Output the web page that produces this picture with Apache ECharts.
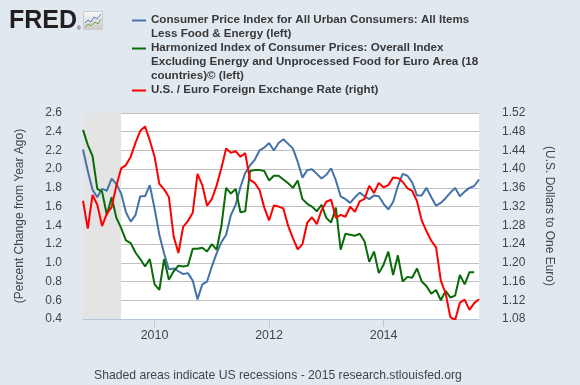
<!DOCTYPE html>
<html><head><meta charset="utf-8">
<script src="https://cdn.jsdelivr.net/npm/echarts@6/dist/echarts.min.js"></script>
<style>html,body{margin:0;padding:0;background:#e1e9f0}#c{width:580px;height:385px}</style>
</head><body><div id="c"></div>
<script>
// ---- data ----
const startYear = 2008, startMonthIndex = 9; // October 2008 (0-based month)
const cpiCore = [ // US core CPI, % change from year ago, Oct 2008 - Sep 2015
  2.21,1.98,1.78,
  1.70,1.79,1.77,1.90,1.84,1.74,1.54,1.44,1.51,1.71,1.71,1.83,
  1.58,1.30,1.10,0.93,0.94,0.91,0.88,0.89,0.81,0.61,0.77,0.80,
  0.96,1.10,1.22,1.30,1.51,1.62,1.81,1.96,2.04,2.10,2.20,2.23,
  2.28,2.20,2.28,2.32,2.27,2.22,2.08,1.91,1.99,2.00,1.95,1.90,
  1.94,2.01,1.88,1.71,1.68,1.64,1.70,1.75,1.71,1.68,1.72,1.71,
  1.63,1.57,1.65,1.82,1.95,1.93,1.86,1.72,1.72,1.80,1.70,1.61,
  1.64,1.69,1.75,1.80,1.71,1.76,1.80,1.82,1.89
];
const hicpCore = [ // Euro area HICP ex energy & unprocessed food, % change, Oct 2008 - Aug 2015
  2.42,2.26,2.14,
  1.79,1.76,1.51,1.70,1.48,1.37,1.24,1.21,1.11,1.04,0.96,1.04,
  0.77,0.71,1.04,0.82,0.91,0.97,0.96,0.97,1.15,1.15,1.16,1.12,
  1.20,1.14,1.39,1.80,1.74,1.79,1.54,1.55,1.98,1.99,1.99,1.98,
  1.88,1.93,1.93,1.89,1.85,1.80,1.88,1.68,1.63,1.60,1.55,1.62,
  1.48,1.43,1.59,1.14,1.31,1.30,1.29,1.31,1.23,1.01,1.12,0.89,
  0.98,1.12,0.87,1.08,0.80,0.85,0.84,0.94,0.80,0.75,0.67,0.71,
  0.60,0.70,0.63,0.65,0.87,0.77,0.90,0.90
];
const usdEur = [ // U.S. dollars to one euro, Oct 2008 - Sep 2015
  1.3326,1.2732,1.3449,
  1.3239,1.2785,1.3050,1.3190,1.3650,1.4016,1.4088,1.4268,1.4562,1.4816,1.4914,1.4614,
  1.4272,1.3686,1.3569,1.3406,1.2565,1.2209,1.2770,1.2894,1.3067,1.3898,1.3661,1.3220,
  1.3360,1.3649,1.4018,1.4442,1.4349,1.4388,1.4264,1.4343,1.3770,1.3706,1.3556,1.3179,
  1.2905,1.3224,1.3201,1.3162,1.2789,1.2526,1.2288,1.2400,1.2856,1.2974,1.2828,1.3119,
  1.3304,1.3347,1.2959,1.3025,1.2983,1.3197,1.3088,1.3314,1.3364,1.3646,1.3491,1.3708,
  1.3610,1.3659,1.3823,1.3813,1.3732,1.3592,1.3539,1.3316,1.2901,1.2673,1.2472,1.2331,
  1.1621,1.1350,1.0838,1.0779,1.1150,1.1213,1.0996,1.1139,1.1221
];
const xTickYears = [2010, 2012, 2014];
const recession = ['2008-10', '2009-06'];
const leftAxis = {min: 0.4, max: 2.6, step: 0.2};
const rightAxis = {min: 1.08, max: 1.52, step: 0.04};
const seriesNames = [
  'Consumer Price Index for All Urban Consumers: All Items\nLess Food & Energy (left)',
  'Harmonized Index of Consumer Prices: Overall Index\nExcluding Energy and Unprocessed Food for Euro Area (18\ncountries)\u00a9 (left)',
  'U.S. / Euro Foreign Exchange Rate (right)'
];
const colors = ['#4572a7', '#086b08', '#ff0000'];
const footer = 'Shaded areas indicate US recessions - 2015 research.stlouisfed.org';

// ---- build ----
const months = [];
for (let i = 0; i < cpiCore.length; i++) {
  const d = new Date(startYear, startMonthIndex + i, 1);
  months.push(d.getFullYear() + '-' + String(d.getMonth() + 1).padStart(2, '0'));
}
const tickSet = new Set(xTickYears.map(y => y + '-01'));
const isTick = (idx) => tickSet.has(months[idx]);
const FONT = '"Liberation Sans", Arial, sans-serif';

const legendGraphics = [];
const rowH = 14, firstRowY = 19.5;
let row = 0;
seriesNames.forEach((name, k) => {
  const y0 = firstRowY + row * rowH;
  legendGraphics.push({type: 'line', shape: {x1: 132, y1: y0 + 1, x2: 146, y2: y0 + 1},
    style: {stroke: colors[k], lineWidth: 2}, silent: true});
  name.split('\n').forEach(line => {
    legendGraphics.push({type: 'text', x: 151, y: firstRowY + row * rowH,
      style: {text: line, fill: '#383838', font: 'bold 11.6px ' + FONT, verticalAlign: 'middle', textAlign: 'left'}});
    row++;
  });
});

const chart = echarts.init(document.getElementById('c'), null, {renderer: 'canvas'});
chart.setOption({
  backgroundColor: '#e1e9f0',
  animation: false,
  textStyle: {fontFamily: FONT},
  grid: {left: 83, right: 101, top: 113, bottom: 66, show: true, backgroundColor: '#ffffff', borderWidth: 0},
  xAxis: {
    type: 'category', data: months, boundaryGap: false,
    axisLine: {lineStyle: {color: '#b8c8d8', width: 1}},
    axisTick: {show: true, length: 8, lineStyle: {color: '#b8c8d8'}, interval: (i) => isTick(i)},
    axisLabel: {interval: (i) => isTick(i), formatter: v => v.slice(0, 4),
      color: '#444', fontSize: 12.5, margin: 10, fontFamily: FONT},
    splitLine: {show: false}
  },
  yAxis: [{
    type: 'value', min: leftAxis.min, max: leftAxis.max, interval: leftAxis.step, position: 'left',
    name: '(Percent Change from Year Ago)', nameLocation: 'middle', nameGap: 57,
    nameTextStyle: {color: '#444', fontSize: 12, fontFamily: FONT},
    axisLine: {show: false}, axisTick: {show: false},
    axisLabel: {formatter: v => v.toFixed(1), color: '#444', fontSize: 12, margin: 21, fontFamily: FONT},
    splitLine: {lineStyle: {color: '#c0c0c0', width: 1}}
  }, {
    type: 'value', min: rightAxis.min, max: rightAxis.max, interval: rightAxis.step, position: 'right',
    name: '(U.S. Dollars to One Euro)', nameLocation: 'middle', nameGap: 64, nameRotate: -90,
    nameTextStyle: {color: '#444', fontSize: 12, fontFamily: FONT},
    axisLine: {show: false}, axisTick: {show: false},
    axisLabel: {formatter: v => v.toFixed(2), color: '#444', fontSize: 12, margin: 23, fontFamily: FONT},
    splitLine: {show: false}
  }],
  series: [{
    name: seriesNames[0], type: 'line', yAxisIndex: 0, data: cpiCore, showSymbol: false, symbol: 'none',
    lineStyle: {color: colors[0], width: 2}, itemStyle: {color: colors[0]}, clip: true,
    markArea: {silent: true, itemStyle: {color: '#e4e4e4'},
      data: [[{xAxis: recession[0]}, {xAxis: recession[1]}]]}
  }, {
    name: seriesNames[1], type: 'line', yAxisIndex: 0, data: hicpCore, showSymbol: false, symbol: 'none',
    lineStyle: {color: colors[1], width: 2}, itemStyle: {color: colors[1]}, clip: true
  }, {
    name: seriesNames[2], type: 'line', yAxisIndex: 1, data: usdEur, showSymbol: false, symbol: 'none',
    lineStyle: {color: colors[2], width: 2}, itemStyle: {color: colors[2]}, clip: true
  }],
  graphic: [
    {type: 'text', x: 9, y: 21, style: {text: 'FRED', fill: '#231f20', font: '900 25px ' + FONT, verticalAlign: 'middle'}},
    {type: 'text', x: 77, y: 29, style: {text: '\u00ae', fill: '#231f20', font: '5px ' + FONT, verticalAlign: 'middle'}},
    {type: 'rect', shape: {x: 83.5, y: 11.5, width: 19, height: 18},
      style: {fill: new echarts.graphic.LinearGradient(0, 0, 0, 1, [{offset: 0, color: '#fafafa'}, {offset: 1, color: '#c9c9c9'}]), stroke: '#cccccc', lineWidth: 1}},
    {type: 'polyline', shape: {points: [[85, 23], [88, 20], [91, 22], [94, 17], [97, 19], [101, 14]]},
      style: {stroke: '#5a86c0', lineWidth: 1, fill: null}},
    {type: 'polyline', shape: {points: [[85, 27], [88, 24], [91, 26], [95, 22], [98, 24], [101, 19]]},
      style: {stroke: '#6aa83a', lineWidth: 1, fill: null}},
    ...legendGraphics,
    {type: 'text', x: 94, y: 376, style: {text: footer, fill: '#444', font: '12.2px ' + FONT, verticalAlign: 'middle'}}
  ]
});
</script></body></html>
